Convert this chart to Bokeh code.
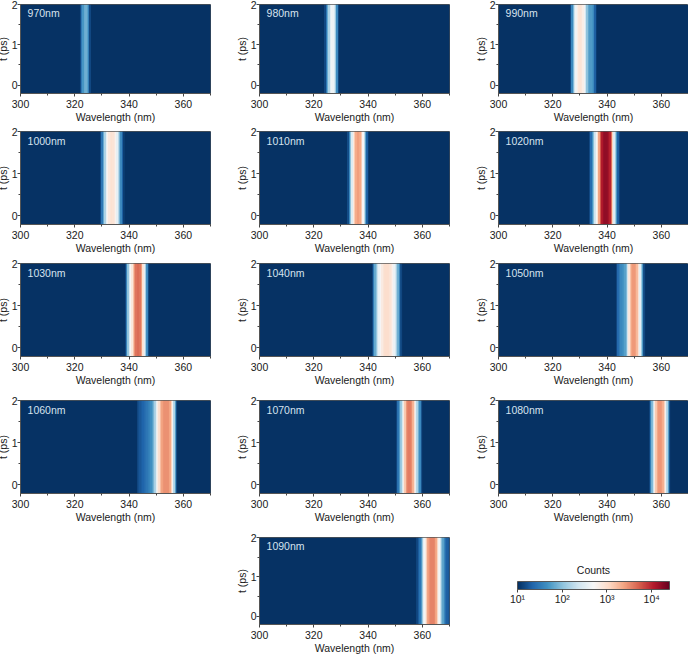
import numpy as np
from bokeh.embed import file_html
from bokeh.resources import INLINE
from bokeh.plotting import figure
from bokeh.layouts import column, row
from bokeh.models import (LogColorMapper, FixedTicker, Label, ColorBar, Spacer)
from bokeh.palettes import RdBu11

# Excitation wavelength (nm) of each panel
panel_names = ["970nm", "980nm", "990nm", "1000nm", "1010nm", "1020nm", "1030nm",
               "1040nm", "1050nm", "1060nm", "1070nm", "1080nm", "1090nm"]
# First wavelength (nm) of the band read in each panel, then counts every 0.5 nm
band_start = [322.0, 324.0, 326.5, 329.5, 332.5, 333.5, 338.5,
              341.5, 343.5, 343.0, 350.5, 355.5, 358.0]
band_counts = [
    [14, 30, 50, 70, 75, 60, 35, 14],
    [14, 30, 70, 150, 300, 420, 400, 260, 120, 40, 14],
    [14, 40, 90, 220, 420, 650, 800, 850, 800, 650, 420, 230, 100, 65, 55, 55, 50, 40, 20, 12],
    [14, 30, 70, 150, 350, 550, 750, 850, 900, 850, 750, 550, 350, 170, 80, 40, 20, 12],
    [15, 40, 100, 300, 700, 1400, 2200, 2600, 2600, 2200, 1300, 500, 180, 60, 20, 12],
    [14, 25, 50, 100, 250, 500, 900, 2500, 6000, 12000, 15000, 16000, 16000, 15000, 13000,
     10000, 4000, 1100, 300, 120, 50, 20, 13],
    [14, 40, 110, 300, 500, 800, 1600, 3000, 4200, 4600, 4600, 4000, 2500, 800, 350, 130, 40, 14],
    [14, 35, 70, 110, 220, 380, 520, 700, 850, 950, 1000, 1000, 950, 850, 700, 550, 400,
     250, 130, 70, 35, 14],
    [14, 25, 32, 40, 45, 50, 60, 90, 300, 800, 1600, 2400, 2700, 2700, 2400, 1700, 800, 350, 110, 50, 14],
    [14, 16, 18, 20, 22, 25, 27, 30, 34, 38, 45, 60, 85, 150, 400, 650, 1000, 1800, 2500, 2900,
     3000, 3000, 3000, 2900, 2300, 1100, 450, 150, 50, 14],
    [14, 30, 60, 120, 300, 700, 1500, 3000, 3600, 3800, 3600, 3000, 1900, 800, 350, 150, 70, 40, 14],
    [14, 40, 90, 250, 700, 1500, 2400, 2800, 2800, 2600, 2000, 1000, 450, 150, 50, 14],
    [14, 20, 30, 60, 150, 450, 700, 1400, 2600, 3200, 3500, 3500, 3500, 3200, 2200, 900, 450, 200,
     90, 60, 35, 25, 20, 18, 16, 15],
]
background_counts = 10.5
x_ticks = [300, 320, 340, 360]
x_minor = [310, 330, 350, 370]
y_ticks = [0, 1, 2]
y_minor = [0.5, 1.5]
cbar_ticks = [10, 100, 1000, 10000]
cbar_labels = {10: "10¹", 100: "10²", 1000: "10³", 10000: "10⁴"}
cbar_low, cbar_high = 10, 25000

FONT = "Liberation Sans"
INK = "#1a1a1a"
wl = np.arange(300, 370.5, 0.5)


def interp_palette():
    rgb = np.array([[int(s[i:i + 2], 16) for i in (1, 3, 5)] for s in RdBu11], dtype=float)
    pos = np.linspace(0, 1, len(RdBu11))
    out = []
    for f in np.linspace(0, 1, 256):
        c = [np.interp(f, pos, rgb[:, k]) for k in range(3)]
        out.append("#%02x%02x%02x" % tuple(int(round(v)) for v in c))
    return out


mapper = LogColorMapper(palette=interp_palette(), low=cbar_low, high=cbar_high)


def panel(i, width, height, left, right, top, bottom):
    p = figure(width=width, height=height, x_range=(300, 370), y_range=(-0.21, 2.0),
               output_backend="svg", toolbar_location=None,
               min_border_left=left, min_border_right=right,
               min_border_top=top, min_border_bottom=bottom,
               outline_line_color="#555555", outline_line_width=1)
    p.grid.visible = False
    counts = np.full(wl.shape, float(background_counts))
    idx = np.round((np.array(band_start[i]) - 300) / 0.5).astype(int)
    vals = np.array(band_counts[i], dtype=float)
    n = min(len(vals), len(wl) - idx)
    counts[idx:idx + n] = vals[:n]
    p.image(image=[counts[None, :]], x=299.75, y=-0.21, dw=70.5, dh=2.21,
            color_mapper=mapper)
    p.xaxis.ticker = FixedTicker(ticks=x_ticks, minor_ticks=x_minor)
    p.yaxis.ticker = FixedTicker(ticks=y_ticks, minor_ticks=y_minor)
    p.xaxis.axis_label = "Wavelength (nm)"
    p.yaxis.axis_label = "t (ps)"
    for ax in (p.xaxis[0], p.yaxis[0]):
        ax.major_label_text_font = FONT
        ax.major_label_text_font_size = "10.5px"
        ax.major_label_text_color = INK
        ax.major_tick_out = 3
        ax.major_tick_in = 0
        ax.minor_tick_out = 2
        ax.minor_tick_in = 0
        ax.major_tick_line_color = "#444444"
        ax.minor_tick_line_color = "#444444"
        ax.axis_line_color = "#555555"
        ax.axis_label_text_font = FONT
        ax.axis_label_text_font_size = "10.5px"
        ax.axis_label_text_font_style = "normal"
        ax.axis_label_text_color = INK
        ax.axis_label_standoff = 0
    p.xaxis.major_label_standoff = 3
    p.yaxis.major_label_standoff = 0
    p.yaxis.major_label_orientation = "horizontal"

    p.add_layout(Label(x=302.6, y=1.78, text=panel_names[i], text_color="#d6e3ee",
                       text_font=FONT, text_font_size="10.5px", text_baseline="middle"))
    return p


row_heights = [127, 132, 137, 137, 125]
rows = []
k = 0
for rh in row_heights[:4]:
    bottom = rh - 6 - 93
    kids = [
        panel(k, 239, rh, 28, 21, 6, bottom),
        panel(k + 1, 239, rh, 28, 21, 6, bottom),
        panel(k + 2, 218, rh, 28, 0, 6, bottom),
    ]
    k += 3
    rows.append(row(*kids, spacing=0))

rh = row_heights[4]
last = panel(12, 239, rh, 28, 21, 6, rh - 6 - 93)

cb_fig = figure(width=218, height=rh, output_backend="svg", toolbar_location=None,
                min_border_left=0, min_border_right=0, min_border_top=0, min_border_bottom=0,
                x_axis_location=None, y_axis_location=None, outline_line_color=None,
                x_range=(0, 1), y_range=(0, 1))
cb_fig.grid.visible = False
bar = ColorBar(color_mapper=mapper, ticker=FixedTicker(ticks=cbar_ticks),
               major_label_overrides=cbar_labels,
               orientation="horizontal", width=152, height=8,
               location=(47, 17), padding=0, margin=0, background_fill_alpha=0,
               border_line_color=None,
               major_label_text_font=FONT, major_label_text_font_size="10.5px",
               major_label_text_color=INK,
               major_tick_in=0, major_tick_out=3, major_tick_line_color="#444444",
               minor_tick_line_color=None, bar_line_color="#555555", label_standoff=0)
cb_fig.add_layout(bar, "center")
cb_fig.add_layout(Label(x=0.564, y=0.625, text="Counts", text_align="center", text_baseline="middle",
                        text_font=FONT, text_font_size="10.5px", text_color=INK))

rows.append(row(Spacer(width=239, height=rh), last, cb_fig, spacing=0))
root = column(*rows, spacing=0, margin=(-2, 0, 0, -8))
open("out.html", "w").write(file_html(root, INLINE))
